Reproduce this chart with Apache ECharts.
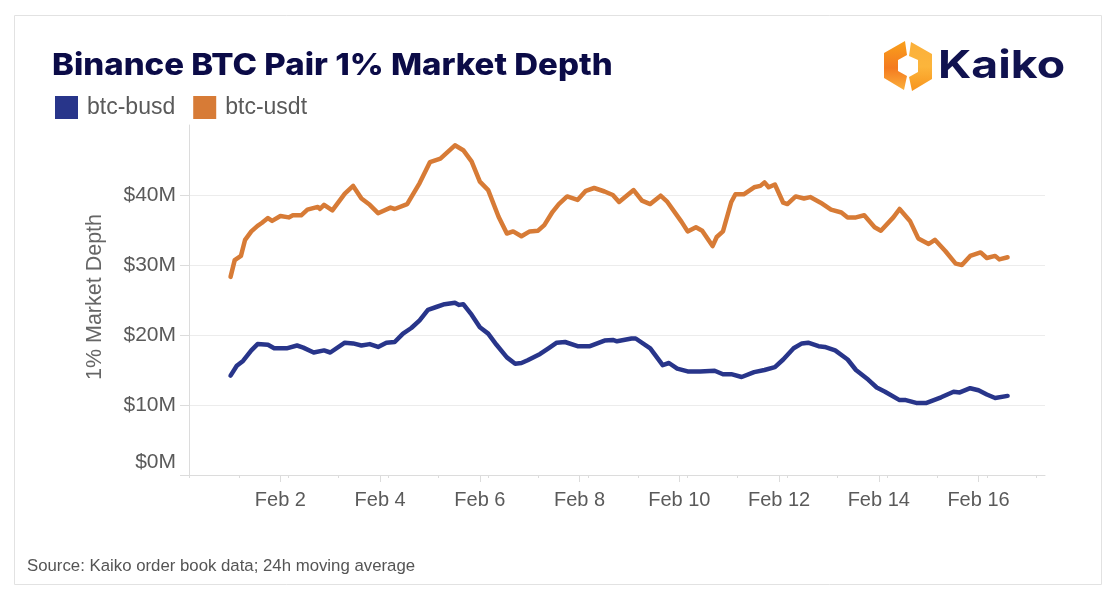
<!DOCTYPE html>
<html>
<head>
<meta charset="utf-8">
<script src="https://cdn.jsdelivr.net/npm/echarts@6/dist/echarts.min.js"></script>
<style>
html,body{margin:0;padding:0;background:#fff;}
#chart{width:1116px;height:600px;}
</style>
</head>
<body>
<div id="chart"></div>
<script>
// ---- data (hours since Feb 1, 2023 00:00; values in $M) ----
const busdHours = [0,3,6,10,13,18,21,27,32,35,40,45,48,55,59,63,67,71,75,79,83,87,91,95,99,103,108,110,112,116,120,124,128,133,137,140,143,149,153,157,161,167,173,180,184,186,193,195,202,208,211,215,220,226,233,237,241,246,252,257,262,266,271,275,278,283,286,291,297,301,307,311,315,322,325,330,335,342,348,351,356,360,364,368,374];
const busdValues = [14.2,15.6,16.3,17.8,18.7,18.6,18.1,18.1,18.5,18.2,17.5,17.8,17.5,18.9,18.8,18.5,18.7,18.3,18.9,19.0,20.2,21.0,22.1,23.6,24.0,24.4,24.6,24.3,24.4,22.9,21.1,20.2,18.6,16.8,15.9,16.0,16.4,17.3,18.1,18.9,19.0,18.4,18.4,19.2,19.3,19.1,19.5,19.5,18.1,15.7,16.0,15.2,14.8,14.8,14.9,14.4,14.4,14.0,14.7,15.0,15.4,16.5,18.1,18.8,18.9,18.4,18.3,17.8,16.5,15.0,13.6,12.5,11.9,10.7,10.7,10.3,10.3,11.1,11.9,11.8,12.4,12.1,11.5,11.0,11.3];
const usdtHours = [0,2,5,7,10,13,15,18,20,24,28,30,34,37,42,43,45,49,55,59,63,67,71,77,79,85,91,96,101,108,112,116,120,124,129,133,136,140,144,148,151,155,158,162,167,171,175,180,184,187,194,198,202,207,210,217,220,224,227,232,234,237,241,243,247,252,255,257,259,262,266,268,272,276,279,284,289,294,297,301,305,310,313,319,322,327,331,336,339,344,349,352,356,361,364,368,370,374];
const usdtValues = [28.3,30.7,31.3,33.6,34.8,35.6,36.0,36.7,36.3,37.0,36.8,37.1,37.1,37.9,38.3,38.0,38.6,37.8,40.2,41.3,39.5,38.6,37.4,38.2,38.0,38.7,41.7,44.7,45.2,47.1,46.4,44.8,41.9,40.7,36.9,34.5,34.8,34.1,34.8,34.9,35.7,37.6,38.7,39.8,39.3,40.6,41.0,40.5,40.0,39.0,40.7,39.2,38.7,39.9,39.1,36.2,34.8,35.4,34.9,32.7,34.0,34.8,39.0,40.1,40.1,41.1,41.3,41.8,41.1,41.5,38.9,38.7,39.8,39.5,39.7,38.9,37.9,37.5,36.8,36.8,37.1,35.4,34.9,36.8,38.0,36.3,33.8,33.0,33.6,32.0,30.2,30.0,31.3,31.8,31.0,31.3,30.8,31.1];
const seriesNames = ['btc-busd','btc-usdt'];
const xTickHours = [24,72,120,168,216,264,312,360];
const xTickLabels = ['Feb 2','Feb 4','Feb 6','Feb 8','Feb 10','Feb 12','Feb 14','Feb 16'];
const xMinorTickHours = [-20,4,28,52,76,100,124,148,172,196,220,244,268,292,316,340,364,388];
const yTickValues = [0,10,20,30,40];

const FONT = '"Liberation Sans", Arial, sans-serif';
const chart = echarts.init(document.getElementById('chart'), null, {renderer:'canvas'});
const axisGray = '#dcdcdc';
const labelGray = '#5a5a5a';

chart.setOption({
  backgroundColor: '#fff',
  animation: false,
  legend: {
    left: 55, top: 96, itemWidth: 23, itemHeight: 23, itemGap: 18, padding: 0,
    icon: 'rect',
    data: seriesNames,
    textStyle: {fontFamily: FONT, fontSize: 23, color: labelGray, padding: [0,0,0,4]}
  },
  grid: {left: 189, right: 71, top: 125, bottom: 125, containLabel: false},
  xAxis: [{
    type: 'value', min: -20, max: 392,
    axisLine: {show: true, onZero: false, lineStyle: {color: axisGray, width: 1}},
    axisTick: {show: true, customValues: xTickHours, length: 7, lineStyle: {color: axisGray}},
    axisLabel: {customValues: xTickHours, margin: 15, fontFamily: FONT, fontSize: 20, color: labelGray,
      formatter: v => { const i = xTickHours.indexOf(v); return i >= 0 ? xTickLabels[i] : ''; }},
    splitLine: {show: false}
  }, {
    type: 'value', min: -20, max: 392, position: 'bottom',
    axisLine: {show: false, onZero: false},
    axisTick: {show: true, customValues: xMinorTickHours, length: 3, lineStyle: {color: axisGray}},
    axisLabel: {show: false},
    splitLine: {show: false}
  }],
  yAxis: {
    type: 'value', min: 0, max: 50, interval: 10,
    axisLine: {show: true, onZero: false, lineStyle: {color: axisGray, width: 1}},
    axisTick: {show: true, length: 9, lineStyle: {color: axisGray}},
    axisLabel: {
      showMaxLabel: false, margin: 13, fontFamily: FONT, fontSize: 21, color: labelGray,
      formatter: v => v === 0 ? '{z|$0M}' : (v >= 50 ? '' : '$' + v + 'M'),
      rich: {z: {fontFamily: FONT, fontSize: 21, color: labelGray, padding: [0,0,26,0]}}
    },
    splitLine: {show: true, showMaxLine: false, showMinLine: false,
      lineStyle: {color: ['#ececec','#ececec','#ececec','#ececec','#ececec','rgba(0,0,0,0)'], width: 1}}
  },
  series: [{
    name: seriesNames[0], type: 'line', xAxisIndex: 0, showSymbol: false, symbol: 'none',
    data: busdHours.map((h, i) => [h, busdValues[i]]),
    itemStyle: {color: '#28358a'},
    lineStyle: {color: '#28358a', width: 4.5, cap: 'round', join: 'round'}
  }, {
    name: seriesNames[1], type: 'line', xAxisIndex: 0, showSymbol: false, symbol: 'none',
    data: usdtHours.map((h, i) => [h, usdtValues[i]]),
    itemStyle: {color: '#d77b36'},
    lineStyle: {color: '#d77b36', width: 4.5, cap: 'round', join: 'round'}
  }],
  graphic: [
    {type: 'rect', silent: true, shape: {x: 14.5, y: 15.5, width: 1087, height: 569},
      style: {fill: 'none', stroke: '#e2e2e2', lineWidth: 1}},
    {type: 'text', silent: true, x: 52, y: 66, scaleX: 1.1,
      style: {text: 'Binance BTC Pair 1% Market Depth', fontFamily: 'Inter', fontWeight: 800, fontSize: 30, fill: '#0b0b47', align: 'left', verticalAlign: 'middle'}},
    {type: 'text', silent: true, x: 95, y: 297, rotation: Math.PI / 2,
      style: {text: '1% Market Depth', fontFamily: FONT, fontSize: 21.5, fill: '#666', align: 'center', verticalAlign: 'middle'}},
    {type: 'text', silent: true, x: 27, y: 566,
      style: {text: 'Source: Kaiko order book data; 24h moving average', fontFamily: FONT, fontSize: 16.8, fill: '#555', align: 'left', verticalAlign: 'middle'}},
    // Kaiko logo mark
    {type: 'polygon', silent: true,
      shape: {points: [[905,41],[884,53],[884,78],[904,90],[907,76],[898,71],[898,60],[907,55]]},
      style: {fill: new echarts.graphic.LinearGradient(0, 0, 0, 1, [{offset: 0, color: '#f9a11b'}, {offset: 0.55, color: '#f47a20'}, {offset: 1, color: '#fbb03b'}])}},
    {type: 'polygon', silent: true,
      shape: {points: [[911,42],[932,54],[932,79],[912,91],[909,77],[918,72],[918,60],[909,56]]},
      style: {fill: new echarts.graphic.LinearGradient(0, 0, 0, 1, [{offset: 0, color: '#fbb03b'}, {offset: 0.5, color: '#fcb53b'}, {offset: 1, color: '#f7941d'}])}},
    {type: 'text', silent: true, x: 938, y: 67, scaleX: 1.22,
      style: {text: 'Kaiko', fontFamily: 'Inter', fontWeight: 700, fontSize: 38, fill: '#10124f', align: 'left', verticalAlign: 'middle'}}
  ]
});
</script>
</body>
</html>
